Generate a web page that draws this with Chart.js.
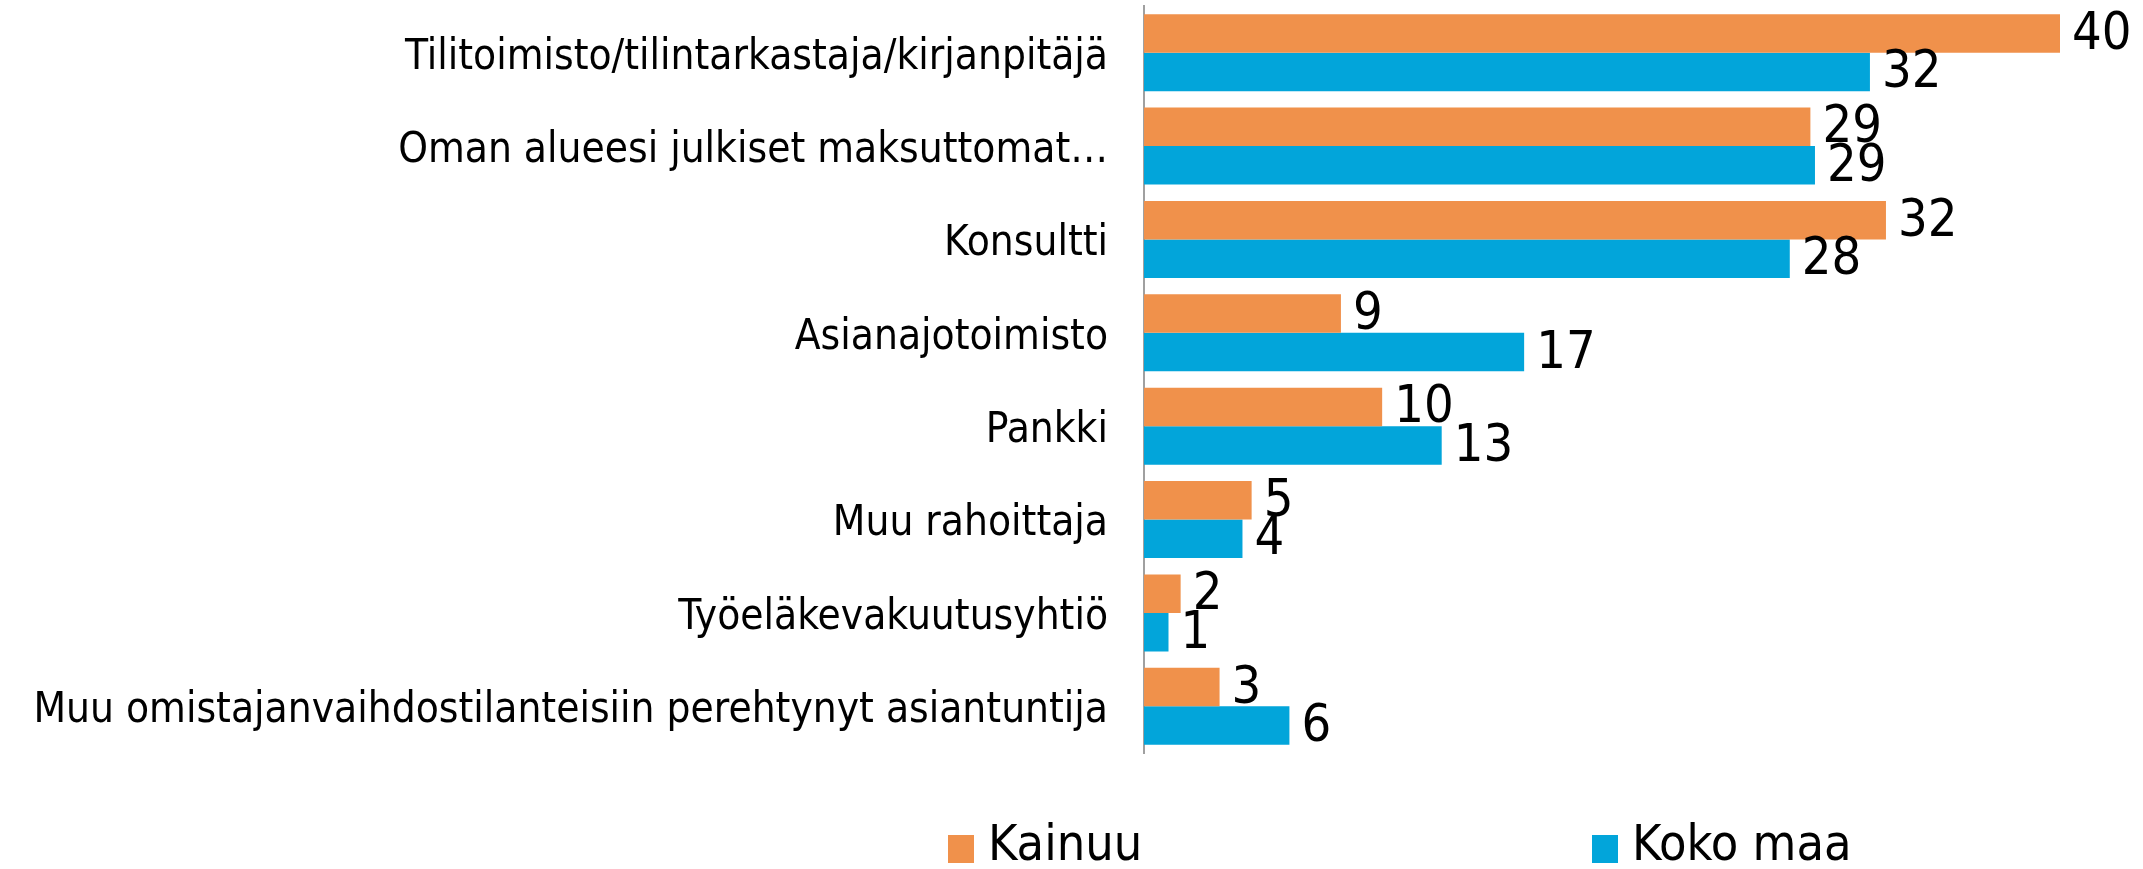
<!DOCTYPE html>
<html>
<head>
<meta charset="utf-8">
<script src="https://cdn.jsdelivr.net/npm/chart.js@4"></script>
<style>
  html, body { margin: 0; padding: 0; background: #fff; }
  #wrap { width: 2143px; height: 869px; }
</style>
</head>
<body>
<div id="wrap"><canvas id="chart" width="2143" height="869"></canvas></div>
<script>
// data
const categories = [
  'Tilitoimisto/tilintarkastaja/kirjanpitäjä',
  'Oman alueesi julkiset maksuttomat…',
  'Konsultti',
  'Asianajotoimisto',
  'Pankki',
  'Muu rahoittaja',
  'Työeläkevakuutusyhtiö',
  'Muu omistajanvaihdostilanteisiin perehtynyt asiantuntija'
];
const kainuu = [40, 29.1, 32.4, 8.6, 10.4, 4.7, 1.6, 3.3];
const kokoMaa = [31.7, 29.3, 28.2, 16.6, 13.0, 4.3, 1.07, 6.35];
const seriesNames = ['Kainuu', 'Koko maa'];
const seriesColors = ['#F0914B', '#02A5DA'];

const FONT = "'DejaVu Sans Condensed', 'DejaVu Sans', sans-serif";

// value labels at the end of each bar
const valueLabels = {
  id: 'valueLabels',
  afterDatasetsDraw(chart) {
    const ctx = chart.ctx;
    ctx.save();
    ctx.font = '52px ' + FONT;
    ctx.fillStyle = '#000';
    ctx.textAlign = 'left';
    ctx.textBaseline = 'middle';
    chart.data.datasets.forEach((ds, i) => {
      chart.getDatasetMeta(i).data.forEach((bar, j) => {
        ctx.fillText(Math.round(ds.data[j]), bar.x + 12, bar.y + 2);
      });
    });
    ctx.restore();
  }
};

// legend spread out under the plot like in the original
const wideLegend = {
  id: 'wideLegend',
  afterDraw(chart) {
    const ctx = chart.ctx;
    const xs = [948, 1592];
    ctx.save();
    ctx.font = '50px ' + FONT;
    ctx.textBaseline = 'middle';
    ctx.textAlign = 'left';
    seriesNames.forEach((name, i) => {
      ctx.fillStyle = seriesColors[i];
      ctx.fillRect(xs[i], 835, 26, 28);
      ctx.fillStyle = '#000';
      ctx.fillText(name, xs[i] + 40, 847);
    });
    ctx.restore();
  }
};

new Chart(document.getElementById('chart'), {
  type: 'bar',
  data: {
    labels: categories,
    datasets: [
      {
        label: seriesNames[0],
        data: kainuu,
        backgroundColor: seriesColors[0],
        barPercentage: 1,
        categoryPercentage: 0.825
      },
      {
        label: seriesNames[1],
        data: kokoMaa,
        backgroundColor: seriesColors[1],
        barPercentage: 1,
        categoryPercentage: 0.825
      }
    ]
  },
  options: {
    indexAxis: 'y',
    responsive: false,
    animation: false,
    layout: { padding: { top: 6, right: 83, bottom: 116, left: 0 } },
    plugins: {
      legend: { display: false },
      tooltip: { enabled: false }
    },
    scales: {
      x: {
        display: false,
        min: 0,
        max: 40
      },
      y: {
        grid: { display: false, drawTicks: false },
        border: { display: true, color: '#A0A0A0', width: 2 },
        ticks: {
          color: '#000',
          padding: 36,
          labelOffset: 5,
          font: { family: FONT, size: 42 }
        },
        afterFit(scale) {
          scale.width = 1144;
          scale.paddingTop = 0;
          scale.paddingBottom = 0;
        }
      }
    }
  },
  plugins: [valueLabels, wideLegend]
});
</script>
</body>
</html>
